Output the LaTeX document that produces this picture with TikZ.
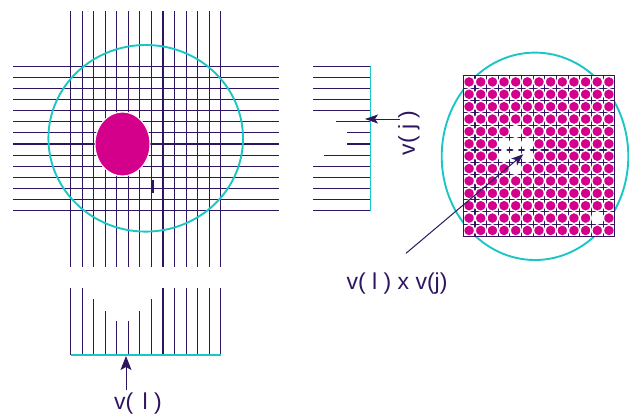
\documentclass[tikz,border=0pt]{standalone}
\usepackage{fontspec}
\setmainfont{Liberation Sans}
\usetikzlibrary{arrows.meta, positioning}
\definecolor{ink}{HTML}{2E1560}
\definecolor{ring}{HTML}{1CC6C6}
\definecolor{blob}{HTML}{D4008C}

\begin{document}
\begin{tikzpicture}[x=1pt, y=-1pt,
  gridline/.style={ink, line width=1.1pt},
  ringline/.style={ring, line width=1.9pt},
  pointer/.style={ink, line width=1pt, -{Stealth[length=13pt, width=9pt, inset=3pt]}},
  lbl/.style={text=ink, font=\fontsize{23}{26}\selectfont, inner sep=0pt}]
  \useasboundingbox (0,0) rectangle (629,416);
  % Object in the grid
  \begin{scope}
    \foreach \i in {0,...,13}
      \draw[gridline] ({70.7+11.54*\i},11) -- ++(0,256);
    \foreach \j in {0,...,13}
      \draw[gridline] (13,{66.3+11.1*\j}) -- ++(266,0);
    \filldraw[fill=blob, draw=white, line width=1pt] (122.5,144) ellipse (27.5pt and 32pt);
    \draw[ink, line width=2pt] (152.7,180) -- (152.7,192.7);
    \draw[ringline] (145.7,138.3) ellipse (97.3pt and 93.3pt);
  \end{scope}
  % Row profile v(j)
  \begin{scope}
    \foreach \j/\s in {0/313, 1/313, 2/313, 3/313, 4/313, 5/336, 6/347,
                       7/347, 8/324, 9/313, 10/313, 11/313, 12/313, 13/313}
      \draw[gridline] (\s,{66.3+11.1*\j}) -- (370.7,{66.3+11.1*\j});
    \draw[ringline, line width=1.4pt] (370.7,66.3) -- (370.7,210.7);
    \node[lbl, rotate=90] (vj) at (409,133) {v( j )};
    \coordinate (vjtail) at (400,119);
    \coordinate (vjtip) at (365,119);
    \draw[pointer] (vjtail) -- (vjtip);
  \end{scope}
  % Column profile v(l)
  \begin{scope}
    \foreach \i/\t in {0/288, 1/288, 2/299, 3/311, 4/321, 5/321, 6/311,
                       7/299, 8/288, 9/288, 10/288, 11/288, 12/288, 13/288}
      \draw[gridline] ({70.7+11.54*\i},\t) -- ({70.7+11.54*\i},355);
    \draw[ringline, line width=1.4pt] (70.7,355) -- (220.7,355);
    \node[lbl] (vl) at (138,403.8) {v(\hspace{3pt} l )};
    \coordinate (vltail) at (126,390);
    \coordinate (vltip) at (126,356);
    \draw[pointer, -{Stealth[length=14pt, width=11pt, inset=3pt]}] (vltail) -- (vltip);
  \end{scope}
  % Product matrix v(l) x v(j)
  \begin{scope}
    \draw[ringline] (535,156.3) ellipse (93.3pt and 103.7pt);
    \fill[white] (463.3,75.7) rectangle (614.7,236.6);
    \foreach \k in {0,...,13} {
      \draw[gridline] ({463.3+11.65*\k},75.7) -- ++(0,160.9);
      \draw[gridline] (463.3,{75.7+12.38*\k}) -- ++(151.4,0);
    }
    \foreach \r in {0,...,12}
      \foreach \c in {0,...,12}
        \filldraw[fill=blob, draw=white, line width=1.4pt]
          ({469.1+11.65*\c},{81.9+12.38*\r}) ellipse (5.4pt and 5.7pt);
    % cells left empty
    \foreach \r/\c in {4/4, 5/3, 5/4, 5/5, 6/3, 6/4, 6/5, 7/4}
      \fill[white] ({469.1+11.65*\c},{81.9+12.38*\r}) ellipse (6.1pt and 6.4pt);
    \fill[white] ({463.3+11.65*11+0.6},{75.7+12.38*11+0.6}) rectangle ++(10.45,11.18);
    \draw[gridline] (463.3,75.7) rectangle (614.7,236.6);
    \node[lbl] (vlvj) at (397,283.3) {v( l ) x v(j)};
    \coordinate (prodtail) at (406,253.3);
    \coordinate (prodtip) at (523.3,154.3);
    \draw[pointer, -{Stealth[length=12pt, width=9pt, inset=3pt]}] (prodtail) -- (prodtip);
  \end{scope}
\end{tikzpicture}
\end{document}
